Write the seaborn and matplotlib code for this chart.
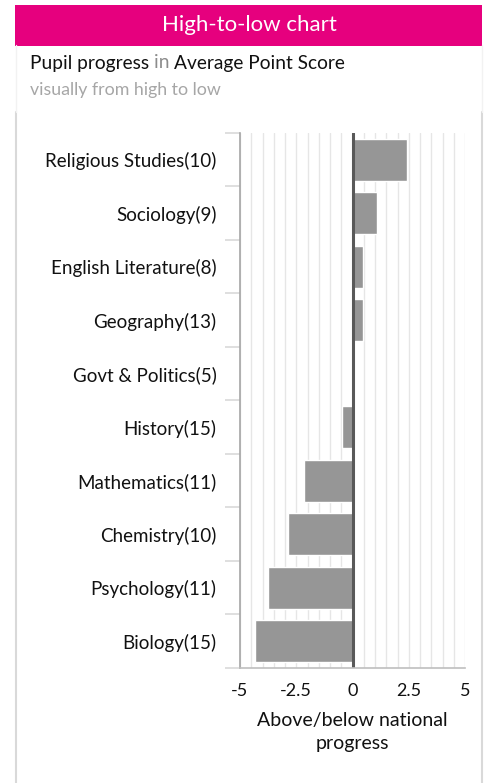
import matplotlib
matplotlib.use("Agg")
import matplotlib.pyplot as plt
import seaborn as sns
import pandas as pd
import numpy as np
from matplotlib.patches import Rectangle
from matplotlib.lines import Line2D
from matplotlib.ticker import MultipleLocator, FixedLocator

subjects = ["Religious Studies", "Sociology", "English Literature", "Geography",
            "Govt & Politics", "History", "Mathematics", "Chemistry",
            "Psychology", "Biology"]
counts = [10, 9, 8, 13, 5, 15, 11, 10, 11, 15]
progress = [2.44, 1.11, 0.46, 0.46, 0.0, -0.47, -2.16, -2.87, -3.76, -4.34]
x_ticks = [-5, -2.5, 0, 2.5, 5]
x_tick_labels = ["-5", "-2.5", "0", "2.5", "5"]

labels = [f"{s}({c})" for s, c in zip(subjects, counts)]
df = pd.DataFrame({"label": labels, "progress": progress})

sns.set_theme(style="white")
plt.rcParams["font.family"] = ["Lato", "DejaVu Sans"]

W, H = 487, 783
fig = plt.figure(figsize=(W / 100, H / 100), dpi=100)
fig.patch.set_facecolor("white")

# header band and panel borders
fig.add_artist(Rectangle((15 / W, 1 - 45.5 / H), 467 / W, 40.5 / H, transform=fig.transFigure,
                         facecolor="#E6007E", edgecolor="none"))
fig.text(249 / W, 1 - 25 / H, "High-to-low chart", color="white", fontsize=16,
         ha="center", va="center")
for xp in (15.5, 481.5):
    fig.add_artist(Line2D([xp / W, xp / W], [0, 1 - 112 / H], transform=fig.transFigure,
                          color="#d9d9d9", lw=1.5))
    fig.add_artist(Line2D([xp / W, xp / W], [1 - 112 / H, 1 - 45 / H], transform=fig.transFigure,
                          color="#f2f2f2", lw=1))

# subtitle
SUB = 13.8
t1 = fig.text(30 / W, 1 - 63 / H, "Pupil progress ", color="#111111", fontsize=SUB,
              ha="left", va="center")
fig.canvas.draw()
r = fig.canvas.get_renderer()
bb = t1.get_window_extent(r)
t2 = fig.text(bb.x1 / W, 1 - 63 / H, "in ", color="#8c8c8c", fontsize=SUB,
              ha="left", va="center")
bb2 = t2.get_window_extent(r)
fig.text(bb2.x1 / W, 1 - 63 / H, "Average Point Score", color="#111111", fontsize=SUB,
         ha="left", va="center")
fig.text(30 / W, 1 - 90 / H, "visually from high to low", color="#a6a6a6", fontsize=12.8,
         ha="left", va="center")

ax = fig.add_axes([240 / W, 1 - 668 / H, 225 / W, 535 / H])
sns.barplot(data=df, y="label", x="progress", orient="h", color="#969696",
            saturation=1, width=0.78, ax=ax, zorder=3)

ax.set_xlim(-5, 5)
ax.set_ylim(len(labels) - 0.5, -0.5)
ax.xaxis.set_minor_locator(MultipleLocator(0.5))
ax.set_xticks(x_ticks)
ax.set_xticklabels(x_tick_labels)
ax.grid(False)
ax.grid(True, axis="x", which="both", color="#e6e6e6", lw=1, zorder=0)
ax.set_axisbelow(True)
ax.axvline(0, color="#595959", lw=2.2, zorder=4)

for s in ("top", "right"):
    ax.spines[s].set_visible(False)
ax.spines["left"].set_color("#a6a6a6")
ax.spines["left"].set_linewidth(1.2)
ax.spines["bottom"].set_color("#bfbfbf")
ax.spines["bottom"].set_linewidth(1.2)
ax.spines["bottom"].set_zorder(5)

# category boundary ticks on y axis
ax.yaxis.set_minor_locator(FixedLocator(np.arange(-0.5, len(labels) - 0.4, 1.0)))
ax.tick_params(axis="y", which="minor", length=11, width=1.2, color="#d9d9d9", left=True)
ax.tick_params(axis="y", which="major", length=0, pad=17, labelsize=13.5, labelcolor="#111111")
ax.tick_params(axis="x", which="both", length=0, pad=11, labelsize=13, labelcolor="#111111")
ax.set_ylabel("")
ax.set_xlabel("Above/below national\nprogress", fontsize=14, color="#111111", labelpad=9,
              linespacing=1.45)

plt.savefig("out.png", dpi=100, facecolor="white")
